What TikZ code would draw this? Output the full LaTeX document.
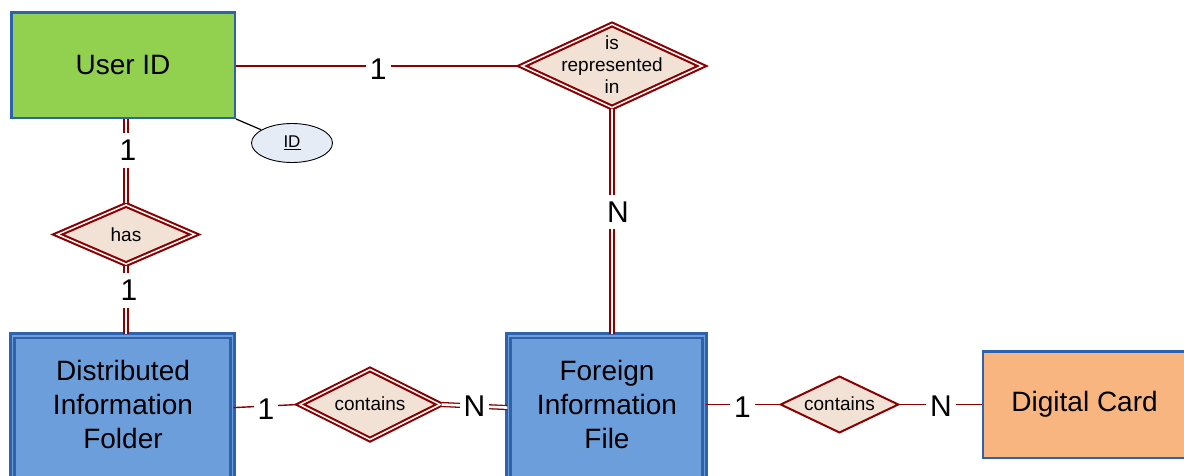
\documentclass[tikz,border=0pt]{standalone}
\usepackage{fontspec}
\setmainfont{Liberation Sans}
\usetikzlibrary{shapes.geometric}

\definecolor{entgreen}{RGB}{146,208,80}
\definecolor{entblue}{RGB}{109,158,220}
\definecolor{entorange}{RGB}{248,181,128}
\definecolor{bordblue}{RGB}{46,98,172}
\definecolor{relred}{RGB}{139,0,0}
\definecolor{relfill}{RGB}{242,226,214}
\definecolor{attrfill}{RGB}{229,236,246}

\tikzset{
  entity/.style={rectangle, draw=bordblue, line width=2.5pt, inner sep=0pt,
    font=\fontsize{28}{34}\selectfont, align=center},
  weakentity/.style={entity, fill=entblue, line width=2.4pt,
    double=entblue, double distance=1.8pt},
  enttext/.style={font=\fontsize{28}{34}\selectfont, align=center, inner sep=0pt},
  reldiamond/.style={diamond, draw=relred, fill=relfill, inner sep=0pt},
  weakrel/.style={reldiamond, line width=2.1pt, double=white, double distance=1.5pt},
  reltext/.style={font=\fontsize{19}{22}\selectfont, align=center, inner sep=0pt},
  attr/.style={ellipse, draw=black, fill=attrfill, line width=0.9pt, inner sep=0pt,
    font=\fontsize{17}{20}\selectfont},
  cardlabel/.style={font=\fontsize{30}{30}\selectfont, fill=white,
    inner xsep=4pt, inner ysep=7pt},
  link/.style={draw=relred, line width=1.4pt},
  dlink/.style={draw=relred, line width=1.3pt, double=white, double distance=2.6pt},
}

\begin{document}
\begin{tikzpicture}[x=1pt, y=-1pt]
  \useasboundingbox (0,0) rectangle (1184,475);
  \clip (0,0) rectangle (1184,475);

  % entities
  \node[entity, fill=entgreen, minimum width=223.5pt, minimum height=105.5pt]
    (userid) at (123,65) {User ID};
  \node[weakentity, minimum width=220pt, minimum height=144pt]
    (folder) at (122.5,407.6) {};
  \node[enttext] (foldertext) at (123,404) {Distributed\\Information\\Folder};
  \node[weakentity, minimum width=196pt, minimum height=144pt]
    (foreign) at (606.5,407.6) {};
  \node[enttext] (foreigntext) at (607,404) {Foreign\\Information\\File};
  \node[entity, fill=entorange, minimum width=202.75pt, minimum height=106.5pt]
    (digital) at (1084.6,404.5) {Digital Card};

  % key attribute
  \node[attr, minimum width=81pt, minimum height=39pt] (idattr) at (292,143) {\underline{ID}};

  % relationships
  \node[weakrel, minimum width=181pt, minimum height=84pt] (isrep) at (612,66) {};
  \node[reltext] (isreptext) at (612,65) {is\\represented\\in};
  \node[weakrel, minimum width=138pt, minimum height=60pt] (has) at (126,234.5) {};
  \node[reltext] (hastext) at (126,234.5) {has};
  \node[weakrel, minimum width=141pt, minimum height=71pt] (contA) at (370,404.5) {};
  \node[reltext] (contAtext) at (370,404) {contains};
  \node[reldiamond, line width=2pt, minimum width=118.4pt, minimum height=56.8pt]
    (contB) at (839.5,404.5) {};
  \node[reltext] (contBtext) at (839.5,404) {contains};

  % connectors
  \draw[black, line width=1.2pt] (userid.south east) -- (idattr);
  \draw[link] (userid.east |- isrep.west) -- node[cardlabel, yshift=-3pt] (cardA) {1} (isrep.west);
  \draw[dlink] (isrep.south) -- node[cardlabel, pos=0.457, xshift=6pt] (cardB) {N} (isrep.south |- foreign.north);
  \draw[dlink] (userid.south -| has.north) -- node[cardlabel, pos=0.37, xshift=2pt] (cardC) {1} (has.north);
  \draw[dlink] (has.south) -- node[cardlabel, pos=0.36, xshift=3pt] (cardD) {1} (has.south |- folder.north);
  \draw[link] (folder.east) -- node[cardlabel, yshift=-3pt] (cardE) {1} (contA.west);
  \draw[dlink] (contA.east) -- node[cardlabel] (cardF) {N} (foreign.west);
  \draw[link] (contB.west -| foreign.east) -- node[cardlabel, yshift=-3pt] (cardG) {1} (contB.west);
  \draw[link] (contB.east) -- node[cardlabel, yshift=-2pt] (cardH) {N} (contB.east -| digital.west);
\end{tikzpicture}
\end{document}
